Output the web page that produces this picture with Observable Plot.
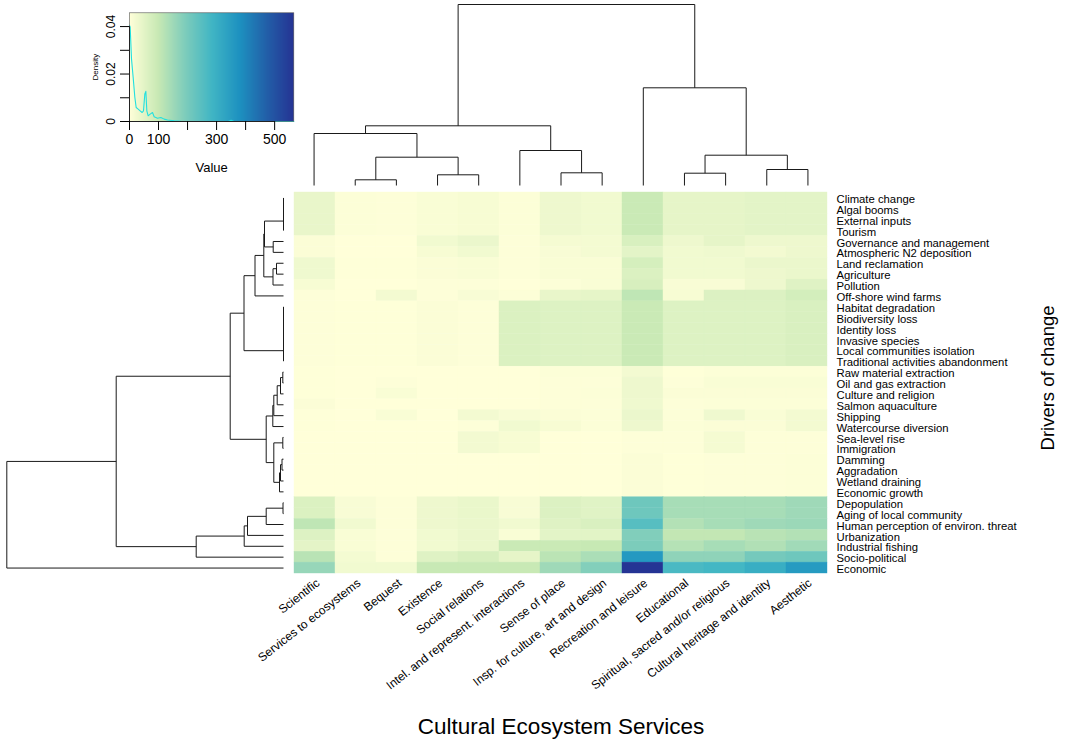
<!DOCTYPE html>
<html><head><meta charset="utf-8">
<script src="https://cdn.jsdelivr.net/npm/d3@7"></script>
<script src="https://cdn.jsdelivr.net/npm/@observablehq/plot@0.6"></script>
<style>
body{margin:0;background:#fff;}
#fig{position:relative;width:1071px;height:755px;background:#fff;font-family:"Liberation Sans",Arial,sans-serif;overflow:hidden;}
#fig svg{position:absolute;left:0;top:0;background:transparent;}
</style></head><body><div id="fig"></div>
<script>
// ---------- data ----------
const services = ["Scientific","Services to ecosystems","Bequest","Existence","Social relations","Intel. and represent. interactions","Sense of place","Insp. for culture, art and design","Recreation and leisure","Educational","Spiritual, sacred and/or religious","Cultural heritage and identity","Aesthetic"];
const drivers = ["Climate change","Algal booms","External inputs","Tourism","Governance and management","Atmospheric N2 deposition","Land reclamation","Agriculture","Pollution","Off-shore wind farms","Habitat degradation","Biodiversity loss","Identity loss","Invasive species","Local communities isolation","Traditional activities abandonment","Raw material extraction","Oil and gas extraction","Culture and religion","Salmon aquaculture","Shipping","Watercourse diversion","Sea-level rise","Immigration","Damming","Aggradation","Wetland draining","Economic growth","Depopulation","Aging of local community","Human perception of environ. threat","Urbanization","Industrial fishing","Socio-political","Economic"];
// one row per driver, columns in the order of `services`
const values = [
 [40,5,3,10,15,5,30,25,95,45,45,50,50],
 [40,5,3,10,15,5,30,25,95,45,45,50,50],
 [40,5,3,10,15,5,30,25,95,45,45,50,50],
 [40,5,3,10,15,5,30,25,95,45,45,50,50],
 [8,0,0,25,35,3,18,20,70,30,45,30,30],
 [8,0,0,15,25,3,12,20,50,25,28,22,30],
 [28,2,2,8,10,3,10,10,75,25,25,35,35],
 [28,2,2,8,10,3,10,10,65,25,25,30,35],
 [15,0,0,3,3,0,5,10,72,12,12,30,58],
 [3,0,22,3,12,5,40,45,110,15,62,62,78],
 [3,2,2,8,3,65,60,60,95,60,60,60,68],
 [3,2,2,8,3,65,60,60,95,60,60,60,68],
 [3,2,2,8,3,65,60,60,95,60,60,60,68],
 [3,2,2,8,3,65,60,60,95,60,60,60,68],
 [3,2,2,8,3,65,60,60,95,60,60,60,68],
 [3,2,2,8,3,65,60,60,95,60,60,60,68],
 [2,0,0,0,0,0,5,5,22,2,5,5,5],
 [2,0,3,0,0,0,3,3,30,3,10,10,10],
 [2,0,10,0,0,0,3,5,30,8,8,8,8],
 [8,0,0,0,0,0,3,3,28,3,5,5,5],
 [2,0,10,0,22,12,8,5,35,5,28,10,22],
 [2,0,0,0,3,25,15,5,30,5,8,8,22],
 [0,0,0,0,22,15,0,0,3,3,18,3,3],
 [0,0,0,0,22,15,0,0,3,3,18,3,3],
 [0,0,0,0,0,0,0,0,8,2,3,3,6],
 [0,0,0,0,0,0,0,0,8,2,3,3,6],
 [0,0,0,0,0,0,0,0,8,2,3,3,6],
 [0,0,0,0,0,0,0,0,8,2,3,3,6],
 [65,12,3,30,38,12,62,55,215,140,140,140,150],
 [65,12,3,30,38,12,62,55,215,140,140,140,150],
 [110,25,3,30,35,25,58,68,250,125,140,150,155],
 [60,10,3,25,36,10,50,52,188,105,105,118,125],
 [48,10,3,25,36,95,95,100,195,122,140,128,148],
 [118,20,3,58,72,45,115,135,360,170,170,205,215],
 [160,25,25,98,98,98,150,185,565,270,280,305,355]
];
// column dendrogram: [child, child, height]; strings are leaves, numbers earlier merges
const colMerges = [
 ["Services to ecosystems","Bequest",5.7],
 ["Existence","Social relations",10.7],
 [0,1,28.3],
 ["Scientific",2,52],
 ["Sense of place","Insp. for culture, art and design",12.7],
 ["Intel. and represent. interactions",4,35],
 [3,5,59.7],
 ["Educational","Spiritual, sacred and/or religious",12.3],
 ["Cultural heritage and identity","Aesthetic",16],
 [7,8,30.3],
 ["Recreation and leisure",9,97.7],
 [6,10,181]
];
// row dendrogram
const rowMerges = [
 ["Climate change","Algal booms",0],
 [0,"External inputs",0],
 [1,"Tourism",0],
 ["Governance and management","Atmospheric N2 deposition",10.3],
 [2,3,19],
 ["Land reclamation","Agriculture",7],
 [5,"Pollution",10.5],
 [4,6,19.7],
 [7,"Off-shore wind farms",28.5],
 ["Habitat degradation","Biodiversity loss",0],
 [9,"Identity loss",0],
 [10,"Invasive species",0],
 [11,"Local communities isolation",0],
 [12,"Traditional activities abandonment",0],
 [8,13,39.5],
 ["Raw material extraction","Oil and gas extraction",0.7],
 [15,"Culture and religion",3],
 [16,"Salmon aquaculture",6.3],
 [17,"Shipping",9.7],
 [18,"Watercourse diversion",10.7],
 ["Sea-level rise","Immigration",0.7],
 ["Damming","Aggradation",1.5],
 [21,"Wetland draining",3],
 [22,"Economic growth",4],
 [20,23,9.7],
 [19,24,17.3],
 [14,25,53.3],
 ["Depopulation","Aging of local community",0.5],
 [27,"Human perception of environ. threat",17.3],
 [28,"Urbanization",36],
 [29,"Industrial fishing",39.3],
 [30,"Socio-political",87.3],
 [26,31,167.3],
 [32,"Economic",276.7]
];
// colour key
const colorStops = [0,100,190,283,380,475,565];
const colorRange = ["#ffffd9","#c7e9b4","#7fcdbb","#41b6c4","#1d91c0","#225ea8","#253494"];
const densX = [0,2.3,6.9,12.6,18.4,23,29.9,36.7,43.6,48.2,52.8,56.3,59.7,64.3,71.2,79.3,85,96.5,108,119.5,131,154,177,200,340,350,360,566];
const densY = [0.0405,0.0398,0.0264,0.0186,0.0102,0.0059,0.0052,0.0045,0.0038,0.0045,0.0116,0.0127,0.0045,0.0024,0.0031,0.0038,0.002,0.0014,0.0017,0.001,0.0006,0.0003,0.0001,0,0,0.0005,0,0];
const keyXTicks = [0,100,200,300,400,500];
const keyXLabels = [0,100,300,500];
const keyYTicks = [0,0.01,0.02,0.03,0.04];
const keyYLabels = [0,0.02,0.04];
const xTitle = "Cultural Ecosystem Services";
const yTitle = "Drivers of change";

// ---------- helpers ----------
function dendroSegments(leaves, merges) {
  const leafPos = new Map(leaves.map((d, i) => [d, {p: i + 0.5, h: 0}]));
  const nodes = [], segs = [];
  const get = c => typeof c === "number" ? nodes[c] : leafPos.get(c);
  for (const [a, b, h] of merges) {
    const A = get(a), B = get(b);
    segs.push({p1: A.p, h1: A.h, p2: A.p, h2: h});
    segs.push({p1: A.p, h1: h, p2: B.p, h2: h});
    segs.push({p1: B.p, h1: h, p2: B.p, h2: B.h});
    nodes.push({p: (A.p + B.p) / 2, h});
  }
  return segs;
}
const colorScale = {type: "linear", domain: colorStops, range: colorRange, interpolate: "rgb"};
const W = 1071, H = 755;
const fig = document.getElementById("fig");
const font = '"Liberation Sans", Arial, sans-serif';

// ---------- heatmap ----------
const cells = drivers.flatMap((d, i) => services.map((s, j) => ({driver: d, service: s, v: values[i][j]})));
const heat = Plot.plot({
  width: W, height: H,
  marginLeft: 293, marginRight: W - 828, marginTop: 192, marginBottom: H - 573,
  style: {background: "transparent", fontFamily: font, color: "#000"},
  x: {domain: services, padding: 0},
  y: {domain: drivers, padding: 0},
  color: colorScale,
  marks: [
    Plot.cell(cells, {x: "service", y: "driver", fill: "v", stroke: "v", strokeWidth: 0.4, inset: 0}),
    Plot.axisX({anchor: "bottom", tickRotate: -38, tickSize: 0, tickPadding: 8, dx: 3, fontSize: 12, label: null}),
    Plot.axisY({anchor: "right", tickSize: 0, tickPadding: 8, dy: 1.5, fontSize: 11.3, label: null}),
    Plot.text([xTitle], {text: d => d, frameAnchor: "bottom", dy: 160, fontSize: 22.5}),
    Plot.text([yTitle], {text: d => d, frameAnchor: "right", textAnchor: "middle", dx: 220, dy: -5, rotate: -90, fontSize: 18.5})
  ]
});
fig.appendChild(heat);

// ---------- column dendrogram ----------
const colSegs = dendroSegments(services, colMerges);
const topD = Plot.plot({
  width: W, height: H,
  style: {background: "transparent"},
  x: {domain: [0, services.length], range: [293, 828], axis: null},
  y: {domain: [0, 181], range: [185, 4], axis: null},
  marks: [Plot.link(colSegs, {x1: "p1", y1: "h1", x2: "p2", y2: "h2", stroke: "#1a1a1a", strokeWidth: 1})]
});
fig.appendChild(topD);

// ---------- row dendrogram ----------
const rowSegs = dendroSegments(drivers, rowMerges);
const leftD = Plot.plot({
  width: W, height: H,
  style: {background: "transparent"},
  x: {domain: [0, 276.7], range: [283, 6.3], axis: null},
  y: {domain: [0, drivers.length], range: [192, 573], axis: null},
  marks: [Plot.link(rowSegs, {x1: "h1", y1: "p1", x2: "h2", y2: "p2", stroke: "#1a1a1a", strokeWidth: 1})]
});
fig.appendChild(leftD);

// ---------- colour key ----------
const dens = densX.map((x, i) => ({x, y: densY[i]}));
const key = Plot.plot({
  width: W, height: H,
  marginLeft: 129, marginRight: W - 293.3, marginTop: 12.3, marginBottom: H - 121,
  style: {background: "transparent", fontFamily: font, color: "#000"},
  x: {domain: [0, 566]},
  y: {domain: [0, 0.0458]},
  color: colorScale,
  marks: [
    Plot.raster({x1: 0, x2: 566, y1: 0, y2: 0.0458, fill: (x, y) => x, pixelSize: 1}),
    Plot.line(dens, {x: "x", y: "y", stroke: "#22e0e0", strokeWidth: 1.1}),
    Plot.frame({stroke: "#555", strokeWidth: 0.6}),
    Plot.ruleY([0], {x1: 0, x2: 500, stroke: "#222"}),
    Plot.ruleX([0], {y1: 0, y2: 0.04, stroke: "#222"}),
    Plot.axisX({ticks: keyXTicks, tickFormat: d => keyXLabels.includes(d) ? String(d) : "", tickSize: 9, tickPadding: 4, fontSize: 14, label: null}),
    Plot.axisY({ticks: keyYTicks, tickFormat: d => keyYLabels.includes(d) ? String(d) : "", tickSize: 9, tickPadding: 6, tickRotate: -90, fontSize: 12, label: null}),
    Plot.text(["Value"], {text: d => d, frameAnchor: "bottom", dy: 50, fontSize: 13}),
    Plot.text(["Density"], {text: d => d, frameAnchor: "left", textAnchor: "middle", dx: -34, rotate: -90, fontSize: 8})
  ]
});
fig.appendChild(key);
</script>
</body></html>
